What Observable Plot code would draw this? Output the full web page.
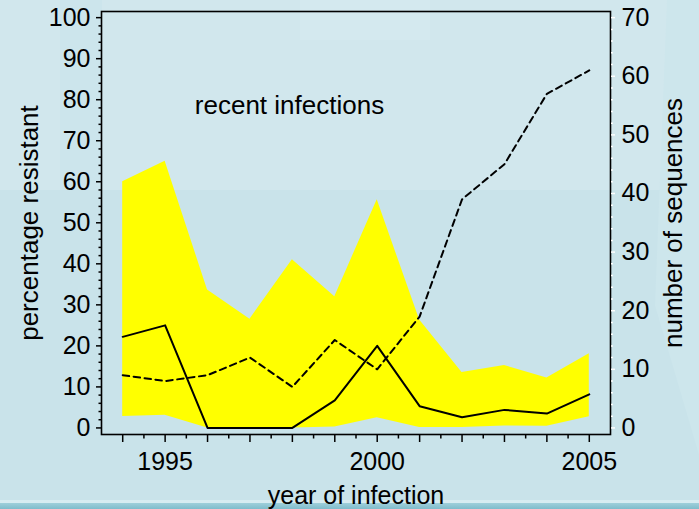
<!DOCTYPE html>
<html>
<head>
<meta charset="utf-8">
<script src="https://cdn.jsdelivr.net/npm/d3@7"></script>
<script src="https://cdn.jsdelivr.net/npm/@observablehq/plot@0.6"></script>
<style>
  html, body { margin: 0; padding: 0; }
  body { width: 699px; height: 509px; overflow: hidden; }
  #wrap { position: relative; width: 699px; height: 509px; background: #c9e3ea; overflow: hidden; font-family: "Liberation Sans", Arial, sans-serif; }
  .bg { position: absolute; }
  #chart { position: absolute; left: 0; top: 0; }
</style>
</head>
<body>
<div id="wrap">
  <div class="bg" style="left:0;top:0;width:699px;height:190px;background:#d1e7ed;"></div>
  <div class="bg" style="left:60px;top:0;width:42px;height:190px;background:#cce5ec;"></div>
  <div class="bg" style="left:300px;top:0;width:130px;height:40px;background:#d4e9ef;"></div>
  <div class="bg" style="left:655px;top:0;width:60px;height:509px;background:#cde6ec;clip-path:polygon(20% 0,100% 0,100% 100%,0 60%);"></div>
  <div class="bg" style="left:0;top:500px;width:699px;height:3px;background:#d7ecf1;"></div>
  <div class="bg" style="left:0;top:503px;width:699px;height:6px;background:linear-gradient(#9fcfda,#7fbccb);"></div>
  <div id="chart"></div>
</div>
<script>
// ---- data ----
const years        = [1994, 1995, 1996, 1997, 1998, 1999, 2000, 2001, 2002, 2003, 2004, 2005];
const pctResistant = [22.2, 25.0, 0, 0, 0, 6.7, 20.0, 5.3, 2.6, 4.4, 3.5, 8.2];
const ciUpper      = [60.0, 65.0, 33.6, 26.5, 41.0, 32.0, 55.6, 26.3, 13.5, 15.2, 12.2, 18.1];
const ciLower      = [2.8, 3.1, 0, 0, 0, 0.2, 2.5, 0.1, 0.1, 0.5, 0.4, 2.7];
const nSequences   = [9, 8, 9, 12, 7, 15, 10, 19, 39, 45, 57, 61];
const leftTicks    = [0, 10, 20, 30, 40, 50, 60, 70, 80, 90, 100];
const rightTicks   = [0, 10, 20, 30, 40, 50, 60, 70];
const xLabelYears  = [1995, 2000, 2005];
const annotation   = [{year: 1995.7, pct: 78.5, text: "recent infections"}];
const xTitle = "year of infection";
const yLeftTitle = "percentage resistant";
const yRightTitle = "number of sequences";

// right axis (0–70 sequences) shares the left axis (0–100 %) range
const seqToPct = 100 / 70;

const data = years.map((year, i) => ({
  year, pct: pctResistant[i], lo: ciLower[i], hi: ciUpper[i], n: nSequences[i]
}));

const FONT = "Liberation Sans, Arial, sans-serif";
const minorLeft = d3.range(0, 101, 2).filter(v => v % 10 !== 0);
const minorRight = d3.range(0, 71, 2).filter(v => v % 10 !== 0).map(v => v * seqToPct);
const halfYears = d3.range(1994.5, 2005, 1);

const chart = Plot.plot({
  width: 699,
  height: 509,
  marginLeft: 101,
  marginRight: 89,
  marginTop: 11,
  marginBottom: 75,
  style: {background: "transparent", fontFamily: FONT, color: "black"},
  x: {domain: [1993.5, 2005.5]},
  y: {domain: [-1.6, 101.5]},
  marks: [
    Plot.areaY(data, {x: "year", y1: "lo", y2: "hi", fill: "#ffff00", fillOpacity: 1}),
    Plot.line(data, {x: "year", y: "pct", stroke: "black", strokeWidth: 2}),
    Plot.line(data, {x: "year", y: d => d.n * seqToPct, stroke: "black", strokeWidth: 2, strokeDasharray: "6.5,4.5"}),
    Plot.frame({stroke: "black", strokeWidth: 1.6}),
    // left axis
    Plot.axisY({anchor: "left", ticks: leftTicks, tickSize: 5, tickPadding: 6, fontSize: 25, label: null, strokeWidth: 1.5}),
    Plot.axisY({anchor: "left", ticks: minorLeft, tickSize: 2.5, text: null, label: null, strokeWidth: 1.5}),
    // right axis
    Plot.axisY({anchor: "right", ticks: rightTicks.map(v => v * seqToPct), tickFormat: d => String(Math.round(d / seqToPct)),
      tickSize: 4, tickPadding: 7, fontSize: 25, label: null, stroke: "white", fill: "black", strokeWidth: 1.5}),
    Plot.axisY({anchor: "right", ticks: minorRight, tickSize: 2, text: null, label: null, stroke: "white", strokeWidth: 1.5}),
    // bottom axis
    Plot.axisX({anchor: "bottom", ticks: years, tickFormat: d => xLabelYears.includes(d) ? String(d) : "",
      tickSize: 8, tickPadding: 10, fontSize: 25, label: null, strokeWidth: 1.5}),
    Plot.axisX({anchor: "bottom", ticks: halfYears, tickSize: 4.5, text: null, label: null, strokeWidth: 1.5}),
    // titles
    Plot.text([xTitle], {text: d => d, frameAnchor: "bottom", lineAnchor: "middle", dy: 61, fontSize: 25}),
    Plot.text([yLeftTitle], {text: d => d, frameAnchor: "left", textAnchor: "middle", lineAnchor: "middle", rotate: -90, dx: -72, fontSize: 26}),
    Plot.text([yRightTitle], {text: d => d, frameAnchor: "right", textAnchor: "middle", lineAnchor: "middle", rotate: -90, dx: 63, fontSize: 26}),
    Plot.text(annotation, {x: "year", y: "pct", text: "text", textAnchor: "start", fontSize: 26})
  ]
});
document.getElementById("chart").appendChild(chart);
</script>
</body>
</html>
